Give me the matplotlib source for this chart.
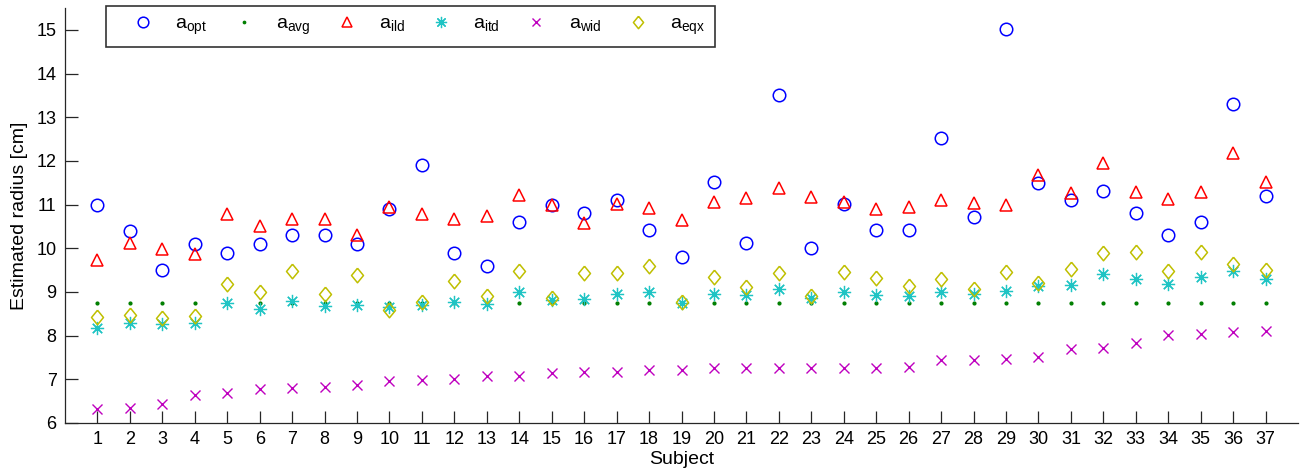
import numpy as np
import matplotlib
matplotlib.use("Agg")
import matplotlib.pyplot as plt

plt.rcParams["font.family"] = ["Liberation Sans", "DejaVu Sans"]

# ── data ──────────────────────────────────────────────────────────────────────
subjects = np.arange(1, 38)

a_opt = [11.0, 10.4, 9.5, 10.1, 9.89, 10.1, 10.3, 10.3, 10.1, 10.91,
         11.91, 9.9, 9.6, 10.6, 11.0, 10.81, 11.11, 10.41, 9.8, 11.51,
         10.11, 13.52, 10.01, 11.02, 10.41, 10.41, 12.52, 10.71, 15.02, 11.5,
         11.1, 11.31, 10.81, 10.3, 10.61, 13.31, 11.2]
a_avg = [8.75] * 37
a_ild = [9.73, 10.12, 9.98, 9.86, 10.78, 10.5, 10.68, 10.66, 10.3, 10.95,
         10.78, 10.66, 10.74, 11.23, 11.0, 10.57, 11.02, 10.93, 10.64, 11.06,
         11.14, 11.38, 11.18, 11.06, 10.91, 10.95, 11.11, 11.03, 10.98, 11.68,
         11.26, 11.95, 11.28, 11.13, 11.28, 12.18, 11.51]
a_itd = [8.17, 8.29, 8.26, 8.28, 8.74, 8.62, 8.8, 8.68, 8.7, 8.66,
         8.7, 8.78, 8.72, 8.99, 8.82, 8.83, 8.95, 8.99, 8.74, 8.95,
         8.93, 9.06, 8.87, 9.0, 8.93, 8.9, 9.0, 8.95, 9.03, 9.14,
         9.15, 9.41, 9.29, 9.18, 9.35, 9.48, 9.3]
a_wid = [6.31, 6.35, 6.44, 6.64, 6.69, 6.78, 6.81, 6.83, 6.87, 6.95,
         6.98, 7.0, 7.07, 7.07, 7.14, 7.16, 7.17, 7.21, 7.21, 7.26,
         7.26, 7.26, 7.26, 7.26, 7.26, 7.29, 7.44, 7.44, 7.47, 7.52,
         7.69, 7.71, 7.84, 8.02, 8.03, 8.09, 8.1]
a_eqx = [8.42, 8.47, 8.4, 8.45, 9.19, 8.99, 9.48, 8.96, 9.38, 8.58,
         8.78, 9.26, 8.9, 9.48, 8.87, 9.43, 9.43, 9.6, 8.78, 9.35,
         9.12, 9.43, 8.9, 9.46, 9.33, 9.14, 9.29, 9.07, 9.46, 9.21,
         9.52, 9.9, 9.91, 9.48, 9.91, 9.64, 9.5]

labels = [r"a$_\mathregular{opt}$", r"a$_\mathregular{avg}$", r"a$_\mathregular{ild}$",
          r"a$_\mathregular{itd}$", r"a$_\mathregular{wid}$", r"a$_\mathregular{eqx}$"]

# MATLAB-style diamond is a bit taller than wide
diamond = [(0, 1), (0.82, 0), (0, -1), (-0.82, 0), (0, 1)]

# ── plot ──────────────────────────────────────────────────────────────────────
fig = plt.figure(figsize=(13.14, 4.75), dpi=100)
ax = fig.add_axes([0.0495, 0.1095, 0.9383, 0.8735])

ax.plot(subjects, a_opt, "o", ms=9, mfc="none", mec="#0000ff", mew=1.1, label=labels[0])
ax.plot(subjects, a_avg, ".", ms=4, color="#007f00", label=labels[1])
ax.plot(subjects, a_ild, "^", ms=9, mfc="none", mec="#ff0000", mew=1.1, label=labels[2])
ax.plot(subjects, a_itd, marker=(8, 2, 0), ls="none", ms=9.5, color="#1fc4c4", mew=0.9,
        label=labels[3])
ax.plot(subjects, a_wid, "x", ms=6.5, color="#bf00bf", mew=1.0, label=labels[4])
ax.plot(subjects, a_eqx, marker=diamond, ls="none", ms=10.5, mfc="none", mec="#bfbf00",
        mew=1.1, label=labels[5])

# no box, inward ticks
ax.set_xlim(0, 38)
ax.set_ylim(6, 15.5)
ax.set_xticks(subjects)
ax.set_yticks(range(6, 16))
for side in ("top", "right"):
    ax.spines[side].set_visible(False)
for side in ("left", "bottom"):
    ax.spines[side].set_color("#262626")
    ax.spines[side].set_linewidth(0.9)
ax.tick_params(direction="in", length=9, width=0.9, color="#262626", labelsize=13, pad=6)

ax.set_xlabel("Subject", fontsize=14, labelpad=2)
ax.set_ylabel("Estimated radius [cm]", fontsize=14, labelpad=6)

leg = ax.legend(ncol=6, loc="upper left", bbox_to_anchor=(0.033, 1.0055),
                borderaxespad=0, fontsize=14, frameon=True, fancybox=False,
                edgecolor="black", borderpad=0.5, handlelength=2.85,
                handletextpad=0.23, columnspacing=0.45, markerscale=0.85)
leg.get_frame().set_linewidth(1.2)

fig.savefig("out.png", dpi=100)
